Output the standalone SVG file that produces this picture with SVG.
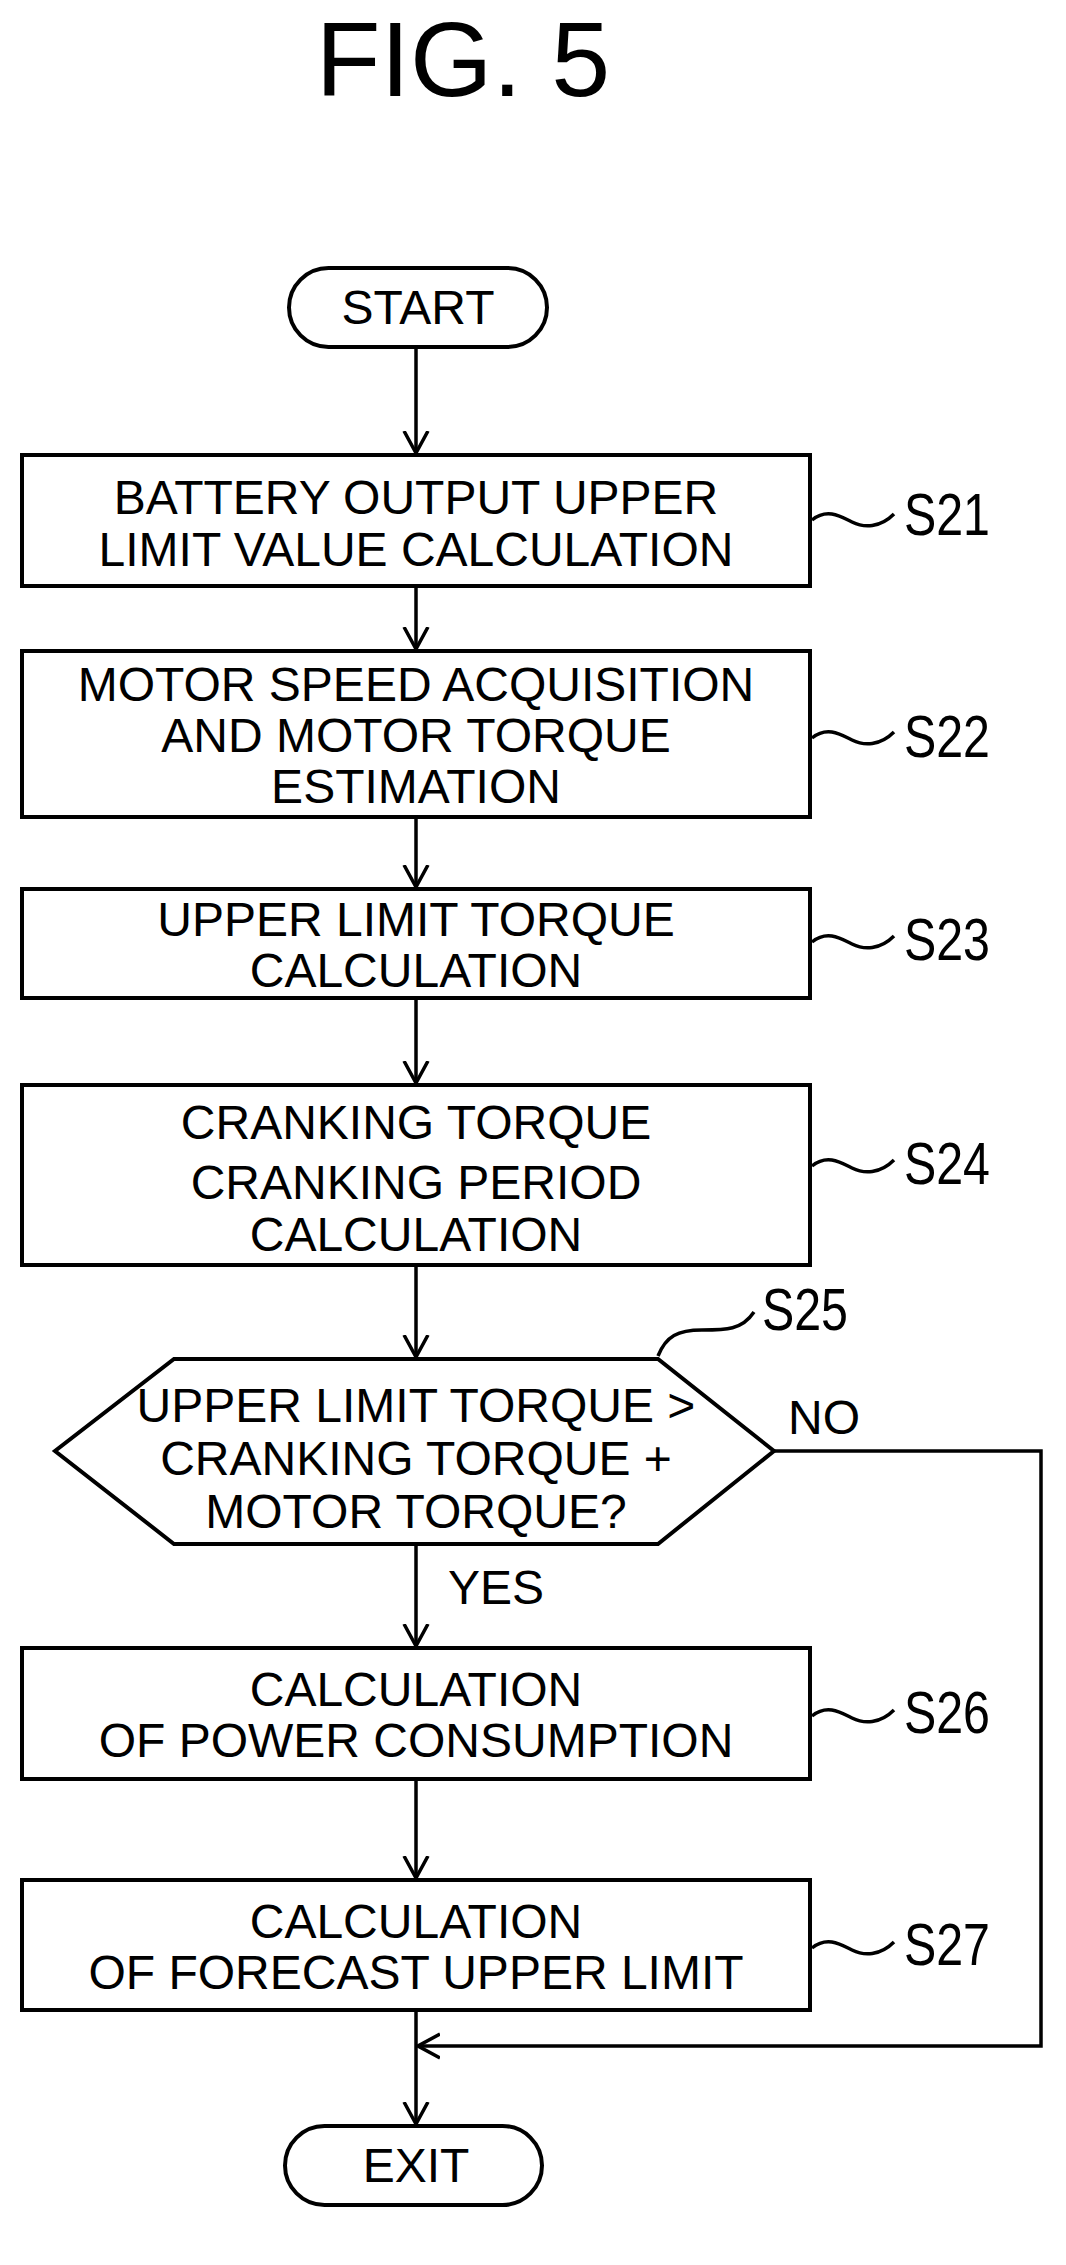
<svg xmlns="http://www.w3.org/2000/svg" width="1066" height="2265" viewBox="0 0 1066 2265">
<style>
.s{fill:none;stroke:#000;stroke-width:4}
.t{font-family:"Liberation Sans",Arial,sans-serif;font-size:48px;text-anchor:middle;fill:#000}
.l{font-family:"Liberation Sans Narrow","Liberation Sans",sans-serif;font-size:60px;fill:#000}
.c{fill:none;stroke:#000;stroke-width:3.5}
</style>
<defs>
<marker id="a" markerWidth="24" markerHeight="36" refX="22" refY="18" orient="auto" markerUnits="userSpaceOnUse">
<path d="M0,6 L22,18 L0,30" fill="none" stroke="#000" stroke-width="3.5"/>
</marker>
</defs>
<rect width="1066" height="2265" fill="#fff"/>
<text x="463" y="96" style="font-family:'Liberation Sans',Arial,sans-serif;font-size:106px;text-anchor:middle">FIG. 5</text>
<g id="connectors">
<path class="c" d="M416,347V453" marker-end="url(#a)"/>
<path class="c" d="M416,586V649" marker-end="url(#a)"/>
<path class="c" d="M416,817V887" marker-end="url(#a)"/>
<path class="c" d="M416,998V1083" marker-end="url(#a)"/>
<path class="c" d="M416,1265V1357" marker-end="url(#a)"/>
<path class="c" d="M416,1544V1646" marker-end="url(#a)"/>
<path class="c" d="M416,1779V1878" marker-end="url(#a)"/>
<path class="c" d="M416,2010V2124" marker-end="url(#a)"/>
<path class="c" d="M774,1451H1041V2046H418" marker-end="url(#a)"/>
<text class="t" x="448" y="1604" style="text-anchor:start">YES</text>
<text class="t" x="788" y="1434" style="text-anchor:start">NO</text>
</g>
<g id="start"><rect class="s" x="289" y="268" width="258" height="79" rx="39.5"/><text class="t" x="418" y="324">START</text></g>
<g id="s21"><rect class="s" x="22" y="455" width="788" height="131"/><text class="t" x="416" y="514">BATTERY OUTPUT UPPER</text><text class="t" x="416" y="566">LIMIT VALUE CALCULATION</text>
<path class="c" d="M812,520 c15,-12 28,-4 40,2 s28,6 42,-8"/><text class="l" x="904" y="535" textLength="86" lengthAdjust="spacingAndGlyphs">S21</text></g>
<g id="s22"><rect class="s" x="22" y="651" width="788" height="166"/><text class="t" x="416" y="701">MOTOR SPEED ACQUISITION</text><text class="t" x="416" y="752">AND MOTOR TORQUE</text><text class="t" x="416" y="803">ESTIMATION</text>
<path class="c" d="M812,738 c15,-12 28,-4 40,2 s28,6 42,-8"/><text class="l" x="904" y="757" textLength="86" lengthAdjust="spacingAndGlyphs">S22</text></g>
<g id="s23"><rect class="s" x="22" y="889" width="788" height="109"/><text class="t" x="416" y="936">UPPER LIMIT TORQUE</text><text class="t" x="416" y="987">CALCULATION</text>
<path class="c" d="M812,942 c15,-12 28,-4 40,2 s28,6 42,-8"/><text class="l" x="904" y="960" textLength="86" lengthAdjust="spacingAndGlyphs">S23</text></g>
<g id="s24"><rect class="s" x="22" y="1085" width="788" height="180"/><text class="t" x="416" y="1139">CRANKING TORQUE</text><text class="t" x="416" y="1199">CRANKING PERIOD</text><text class="t" x="416" y="1251">CALCULATION</text>
<path class="c" d="M812,1166 c15,-12 28,-4 40,2 s28,6 42,-8"/><text class="l" x="904" y="1184" textLength="86" lengthAdjust="spacingAndGlyphs">S24</text></g>
<g id="s25"><polygon class="s" points="174,1359 658,1359 774,1451 658,1544 174,1544 55,1451"/><text class="t" x="416" y="1422">UPPER LIMIT TORQUE &gt;</text><text class="t" x="416" y="1475">CRANKING TORQUE +</text><text class="t" x="416" y="1528">MOTOR TORQUE?</text>
<path class="c" d="M658,1356 c8,-20 20,-26 44,-26 s40,0 52,-18"/><text class="l" x="762" y="1330" textLength="86" lengthAdjust="spacingAndGlyphs">S25</text></g>
<g id="s26"><rect class="s" x="22" y="1648" width="788" height="131"/><text class="t" x="416" y="1706">CALCULATION</text><text class="t" x="416" y="1757">OF POWER CONSUMPTION</text>
<path class="c" d="M812,1716 c15,-12 28,-4 40,2 s28,6 42,-8"/><text class="l" x="904" y="1733" textLength="86" lengthAdjust="spacingAndGlyphs">S26</text></g>
<g id="s27"><rect class="s" x="22" y="1880" width="788" height="130"/><text class="t" x="416" y="1938">CALCULATION</text><text class="t" x="416" y="1989">OF FORECAST UPPER LIMIT</text>
<path class="c" d="M812,1948 c15,-12 28,-4 40,2 s28,6 42,-8"/><text class="l" x="904" y="1965" textLength="86" lengthAdjust="spacingAndGlyphs">S27</text></g>
<g id="exit"><rect class="s" x="285" y="2126" width="257" height="79" rx="39.5"/><text class="t" x="416" y="2182">EXIT</text></g>
</svg>
